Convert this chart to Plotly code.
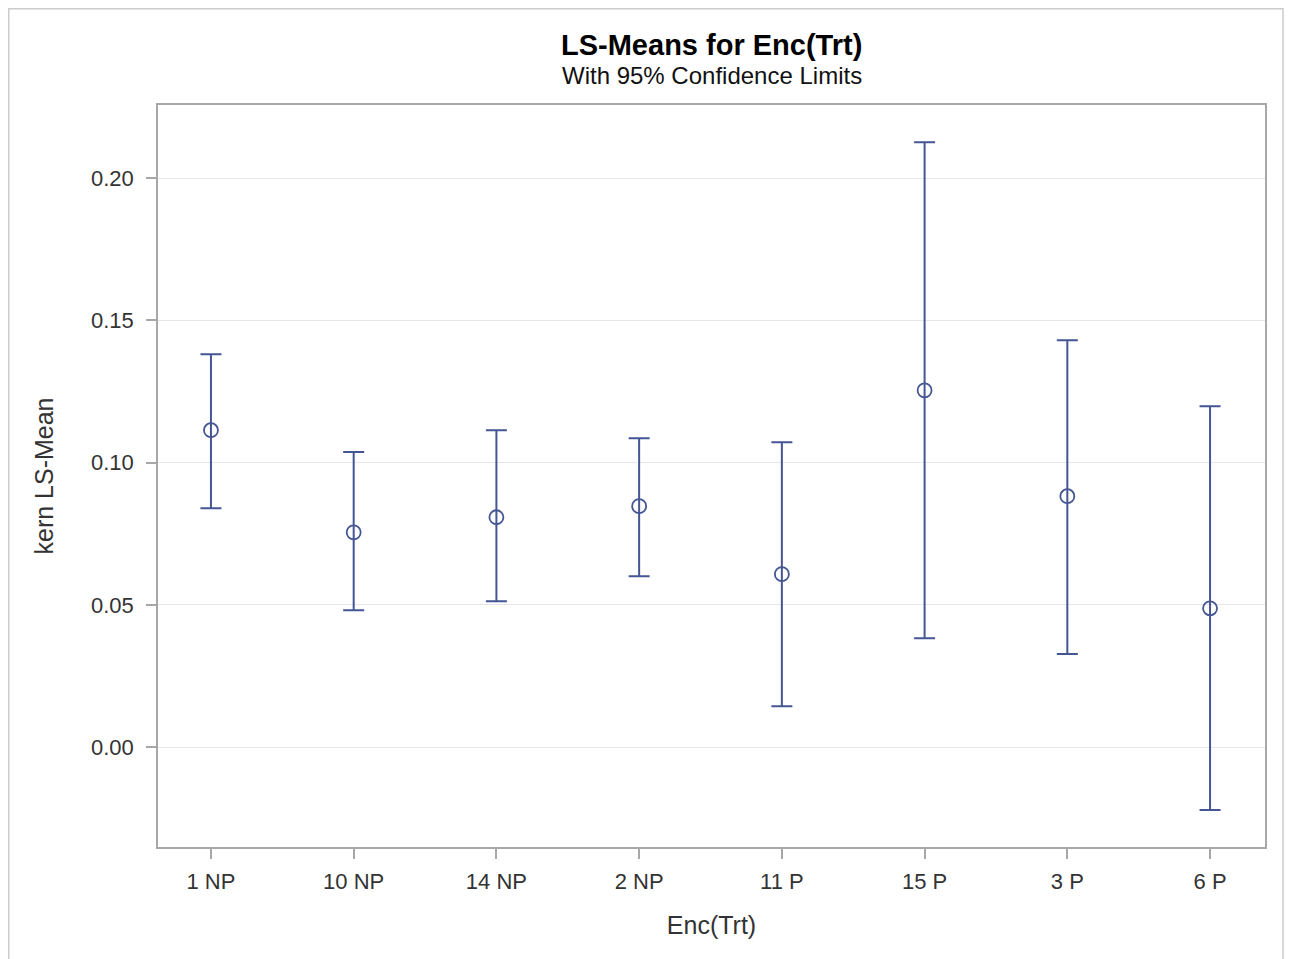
import plotly.graph_objects as go

categories = ["1 NP", "10 NP", "14 NP", "2 NP", "11 P", "15 P", "3 P", "6 P"]
ls_mean = [0.1114, 0.0755, 0.0808, 0.0847, 0.0608, 0.1254, 0.0882, 0.0488]
upper = [0.1381, 0.1037, 0.1114, 0.1086, 0.1072, 0.2126, 0.1430, 0.1198]
lower = [0.0840, 0.0481, 0.0513, 0.0601, 0.0144, 0.0383, 0.0327, -0.0221]
y_ticks = [0.00, 0.05, 0.10, 0.15, 0.20]

color = "#445694"
xs = list(range(len(categories)))

fig = go.Figure()
fig.add_trace(go.Scatter(
    x=xs, y=ls_mean, mode="markers",
    marker=dict(symbol="circle-open", size=14, color=color, line=dict(width=1.8, color=color)),
    error_y=dict(type="data", symmetric=False,
                 array=[u - m for u, m in zip(upper, ls_mean)],
                 arrayminus=[m - l for m, l in zip(ls_mean, lower)],
                 color=color, thickness=2, width=10.5),
    showlegend=False,
))

# The page body has an 8px margin; figure is sized/positioned to compensate.
W, H = 1284, 951
L, R, T, B = 150, 27, 97, 112
pw, ph = W - L - R, H - T - B


def py(fig_y):
    return (H - B - fig_y) / ph


def px(fig_x):
    return (fig_x - L) / pw


font = "Liberation Sans, Arial, sans-serif"
tick_color = "#A8A8A8"
fig.update_layout(
    width=W, height=H,
    margin=dict(l=L, r=R, t=T, b=B),
    paper_bgcolor="white", plot_bgcolor="white",
    font=dict(family=font, color="#333333"),
    xaxis=dict(range=[-0.371, 7.385], tickvals=xs, ticktext=categories,
               showgrid=False, zeroline=False, showline=True, linecolor=tick_color, linewidth=1.5,
               mirror=True, ticks="outside", ticklen=10, tickcolor=tick_color, tickwidth=1.5,
               ticklabelstandoff=4,
               tickfont=dict(size=22, color="#333333"),
               title=dict(text="Enc(Trt)", font=dict(size=25, color="#333333"), standoff=23)),
    yaxis=dict(range=[-0.0351, 0.2257], tickvals=y_ticks, ticktext=[f"{v:.2f}" for v in y_ticks],
               showgrid=True, gridcolor="#E6E6E6", gridwidth=1.2, zeroline=False,
               showline=True, linecolor=tick_color, linewidth=1.5, mirror=True,
               ticks="outside", ticklen=10, tickcolor=tick_color, tickwidth=1.5,
               ticklabelstandoff=8,
               tickfont=dict(size=22, color="#333333"),
               title=dict(text="kern LS-Mean", font=dict(size=25, color="#333333"), standoff=30)),
    annotations=[
        dict(text="<b>LS-Means for Enc(Trt)</b>", x=0.5, y=py(45 - 8), xref="paper", yref="paper",
             showarrow=False, font=dict(size=29, color="#000000"), yanchor="middle"),
        dict(text="With 95% Confidence Limits", x=0.5, y=py(76 - 8), xref="paper", yref="paper",
             showarrow=False, font=dict(size=24, color="#111111"), yanchor="middle"),
    ],
    shapes=[dict(type="rect", xref="paper", yref="paper",
                 x0=px(0.75), x1=px(1275),
                 y0=py(H + 20), y1=py(0.75),
                 line=dict(color="#CCCCCC", width=1.5), layer="below")],
)

fig.write_html("out.html")
